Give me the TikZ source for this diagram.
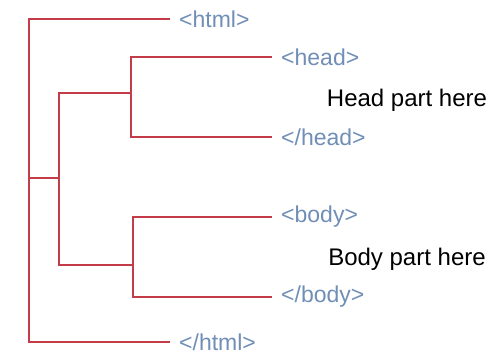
\documentclass[tikz,border=0pt]{standalone}
\usepackage{fontspec}
\setmainfont{Liberation Sans}
\usepackage{xcolor}
\usetikzlibrary{positioning, calc}
\definecolor{branchred}{RGB}{196, 60, 72}
\definecolor{tagblue}{RGB}{112, 142, 182}

\begin{document}
\begin{tikzpicture}[
    x=1pt, y=-1pt,
    branch/.style={draw=branchred, line width=1.4pt},
    tag/.style={anchor=west, inner xsep=9pt, inner ysep=0pt, text=tagblue, font=\fontsize{23}{27}\selectfont},
    part/.style={inner sep=0pt, text=black, font=\fontsize{24}{28}\selectfont}
]
    \useasboundingbox (0,0) rectangle (492,356);

    % Tags
    \node[tag] (html) at (170, 19) {<html>};
    \node[tag] (head) at (272, 57) {<head>};
    \node[tag] (headend) at (272, 137) {</head>};
    \node[tag] (body) at (272, 217) {<body>};
    \node[tag] (bodyend) at (272, 297) {</body>};
    \node[tag] (htmlend) at (170, 342) {</html>};

    % Contents
    \node[part] (headpart) at (407, 100) {Head part here};
    \node[part] (bodypart) at (407, 259) {Body part here};

    % Forks
    \coordinate (root) at (29, 178);
    \coordinate (mid) at (59, 178);
    \coordinate (headfork) at (131, 93);
    \coordinate (bodyfork) at (133, 265);

    \draw[branch] (html.west) -| (root) |- (htmlend.west);
    \draw[branch] (root) -- (mid);
    \draw[branch] (headfork) -| (mid) |- (bodyfork);
    \draw[branch] (head.west) -| (headfork) |- (headend.west);
    \draw[branch] (body.west) -| (bodyfork) |- (bodyend.west);
\end{tikzpicture}
\end{document}
